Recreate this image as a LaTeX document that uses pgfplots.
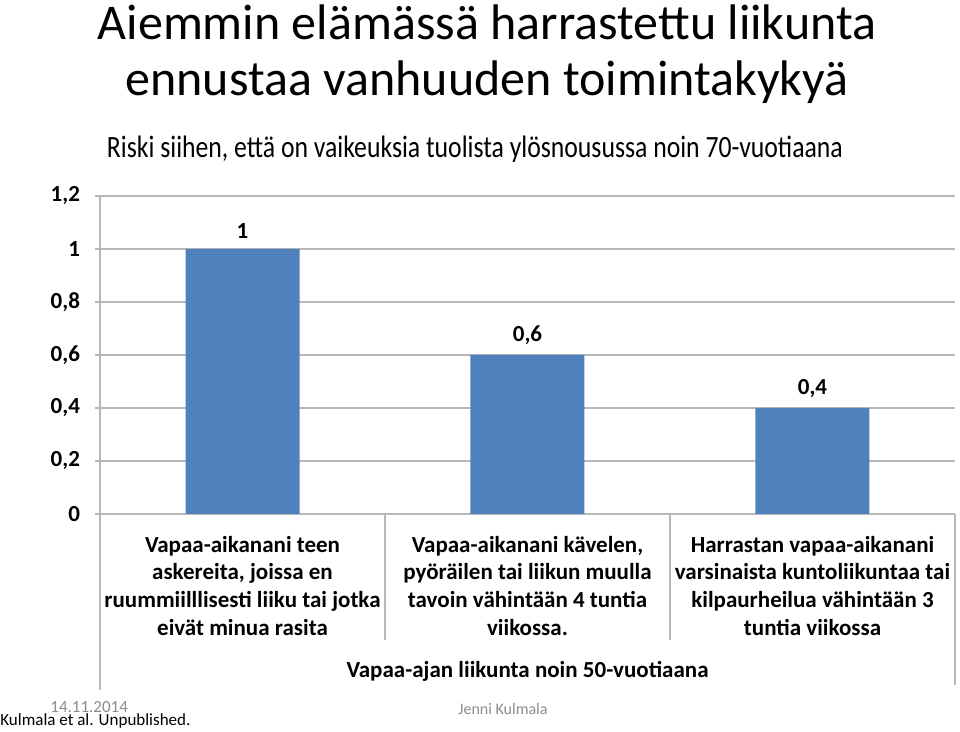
\documentclass[border=0pt]{standalone}
\usepackage{fontspec}
\setmainfont{Carlito}
\usepackage{graphicx}
\usepackage{pgfplots}
\pgfplotsset{compat=1.18}
\definecolor{barblue}{HTML}{4F81BD}
\definecolor{gridgray}{HTML}{B8B8B8}
\definecolor{footgray}{HTML}{8C8C8C}
\begin{document}
\begin{tikzpicture}
% 1 px of the reference = 0.5pt
\path[use as bounding box] (0,0) rectangle (480pt,366pt);
\node[anchor=base] at (243.5pt,346pt) {\fontsize{25}{30}\selectfont Aiemmin elämässä harrastettu liikunta};
\node[anchor=base] at (243.5pt,318pt) {\fontsize{25}{30}\selectfont ennustaa vanhuuden toimintakykyä};
\node[anchor=base] at (237.5pt,287pt) {\resizebox{368pt}{\height}{\fontsize{15.5}{18}\selectfont Riski siihen, että on vaikeuksia tuolista ylösnousussa noin 70-vuotiaana}};
\begin{axis}[
    at={(50pt,109pt)}, anchor=south west,
    scale only axis,
    width=427.5pt, height=159pt,
    ybar, bar width=0.4,
    xmin=-0.5, xmax=2.5,
    ymin=0, ymax=1.2,
    ytick={0,0.2,...,1.2},
    xtick={0,1,2},
    xticklabels={
        {Vapaa-aikanani teen\\askereita, joissa en\\ruummiilllisesti liiku tai jotka\\eivät minua rasita},
        {Vapaa-aikanani kävelen,\\pyöräilen tai liikun muulla\\tavoin vähintään 4 tuntia\\viikossa.},
        {Harrastan vapaa-aikanani\\varsinaista kuntoliikuntaa tai\\kilpaurheilua vähintään 3\\tuntia viikossa}},
    x tick label style={font=\fontsize{11.5}{13.9}\selectfont\bfseries, align=center, anchor=north, yshift=-5pt},
    y tick label style={font=\fontsize{11.5}{12}\selectfont\bfseries, xshift=-4pt},
    /pgf/number format/assume math mode=true,
    /pgf/number format/.cd, use comma, fixed, precision=1, /pgfplots/.cd,
    axis x line*=bottom, axis y line*=left,
    axis line style={gridgray, line width=0.6pt, -},
    x tick style={draw=none},
    y tick style={gridgray, line width=0.6pt},
    tick align=outside, major tick length=2.5pt,
    ymajorgrids, grid style={gridgray, line width=0.6pt},
    nodes near coords,
    every node near coord/.append style={font=\fontsize{11.5}{12}\selectfont\bfseries, yshift=1.5pt},
    clip=false,
]
\addplot[fill=barblue, draw=none] coordinates {(0,1) (1,0.6) (2,0.4)};
\draw[gridgray, line width=0.6pt] (axis cs:0.5,0) -- ([yshift=-63pt]axis cs:0.5,0);
\draw[gridgray, line width=0.6pt] (axis cs:1.5,0) -- ([yshift=-63pt]axis cs:1.5,0);
\draw[gridgray, line width=0.6pt] (axis cs:-0.5,0) -- ([yshift=-88pt]axis cs:-0.5,0);
\draw[gridgray, line width=0.6pt] (axis cs:2.5,0) -- ([yshift=-85.5pt]axis cs:2.5,0);
\end{axis}
\node[anchor=base] at (263.75pt,27pt) {\fontsize{11.5}{12}\selectfont\bfseries Vapaa-ajan liikunta noin 50-vuotiaana};
\node[anchor=base west, inner sep=0pt, text=footgray] at (25pt,9.5pt) {\fontsize{8.5}{9}\selectfont 14.11.2014};
\node[anchor=base west, inner sep=0pt] at (0pt,3pt) {\fontsize{8.5}{9}\selectfont Kulmala et al. Unpublished.};
\node[anchor=base, inner sep=0pt, text=footgray] at (251.5pt,8.5pt) {\fontsize{8}{9}\selectfont Jenni Kulmala};
\end{tikzpicture}
\end{document}
